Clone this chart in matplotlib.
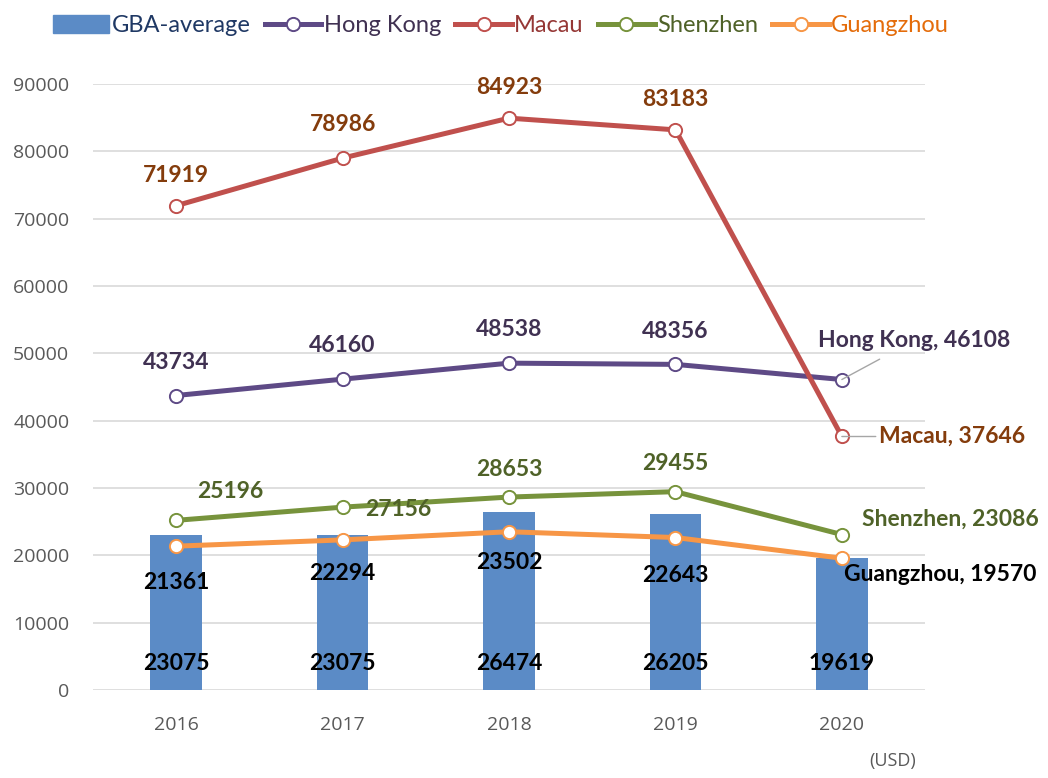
import matplotlib.pyplot as plt
from matplotlib.patches import Patch
from matplotlib.lines import Line2D

# Data
years = ['2016', '2017', '2018', '2019', '2020']
gba_avg = [23075, 23075, 26474, 26205, 19619]
hong_kong = [43734, 46160, 48538, 48356, 46108]
macau = [71919, 78986, 84923, 83183, 37646]
shenzhen = [25196, 27156, 28653, 29455, 23086]
guangzhou = [21361, 22294, 23502, 22643, 19570]

plt.rcParams['font.family'] = ['Lato', 'DejaVu Sans']

fig = plt.figure(figsize=(10.48, 7.78), dpi=100)
ax = fig.add_axes([0.0887, 0.1131, 0.794, 0.779])

x = list(range(len(years)))

bar_c = '#5B8BC6'
hk_c, hk_t = '#5E4A86', '#403152'
mc_c, mc_t = '#C0504D', '#843C0C'
sz_c, sz_t = '#77933C', '#4F6228'
gz_c, gz_t = '#F79646', '#000000'

ax.bar(x, gba_avg, width=0.31, color=bar_c, zorder=2)

series = [(hong_kong, hk_c), (macau, mc_c), (shenzhen, sz_c), (guangzhou, gz_c)]
for vals, c in series:
    ax.plot(x, vals, color=c, lw=3.6, marker='o', ms=9.5, mfc='white',
            mec=c, mew=1.4, zorder=3, solid_capstyle='round')

FS = 16.5
lab = dict(fontsize=FS, fontweight='bold', ha='center', va='center')

# bar labels
for i, v in enumerate(gba_avg):
    ax.text(i, 4000, str(v), color='black', **lab)

# line labels, offsets in points
def put(vals, color, offsets):
    for i, (v, off) in enumerate(zip(vals, offsets)):
        if off is None:
            continue
        ax.annotate(str(v), (i, v), xytext=off, textcoords='offset points',
                    color=color, **lab)

put(hong_kong, hk_t, [(0, 24), (0, 24), (0, 24), (0, 24), None])
put(macau, mc_t, [(0, 22), (0, 24), (0, 22), (0, 22), None])
put(shenzhen, sz_t, [(39, 21), (40, -2), (0, 20), (0, 20), None])
put(guangzhou, gz_t, [(0, -26), (0, -24), (0, -22), (0, -27), None])

# end labels with leader lines
ax.annotate(f'Hong Kong, {hong_kong[4]}', (4, hong_kong[4]), xytext=(52, 28),
            textcoords='offset points', color=hk_t, fontsize=FS, fontweight='bold',
            ha='center', va='center',
            arrowprops=dict(arrowstyle='-', color='#A6A6A6', lw=1,
                            shrinkA=8, shrinkB=0))
ax.annotate(f'Macau, {macau[4]}', (4, macau[4]), xytext=(79, 0),
            textcoords='offset points', color=mc_t, fontsize=FS, fontweight='bold',
            ha='center', va='center',
            arrowprops=dict(arrowstyle='-', color='#A6A6A6', lw=1,
                            shrinkA=58, shrinkB=0))
ax.annotate(f'Shenzhen, {shenzhen[4]}', (4, shenzhen[4]), xytext=(78, 11),
            textcoords='offset points', color=sz_t, fontsize=FS, fontweight='bold',
            ha='center', va='center')
ax.annotate(f'Guangzhou, {guangzhou[4]}', (4, guangzhou[4]), xytext=(71, -12),
            textcoords='offset points', color=gz_t, fontsize=FS, fontweight='bold',
            ha='center', va='center')

ax.set_xlim(-0.5, 4.5)
ax.set_ylim(0, 90000)
ax.set_yticks(range(0, 90001, 10000))
ax.set_xticks(x)
ax.set_xticklabels(years)
ax.tick_params(axis='both', length=0, labelsize=14, labelcolor='#595959',
               labelfontfamily='Open Sans')
ax.tick_params(axis='y', pad=17)
ax.tick_params(axis='x', pad=19)
ax.grid(axis='y', color='#D9D9D9', lw=1.2, zorder=0)
ax.set_axisbelow(True)
for s in ax.spines.values():
    s.set_visible(False)

handles = [Patch(color=bar_c)] + [
    Line2D([], [], color=c, lw=3.6, marker='o', ms=9.5, mfc='white', mec=c, mew=1.4)
    for _, c in series]
names = ['GBA-average', 'Hong Kong', 'Macau', 'Shenzhen', 'Guangzhou']
fig.legend(handles, names, loc='upper left', bbox_to_anchor=(0.03, 1.008),
           ncol=5, frameon=False, fontsize=17, handlelength=2.4,
           handleheight=0.8, handletextpad=0.1, columnspacing=0.6,
           labelcolor=['#1F3864', hk_t, '#953735', sz_t, '#E46C0A'])

fig.text(0.852, 0.01, '(USD)', color='#595959', fontsize=13, ha='center',
         va='bottom', family='Open Sans')

fig.savefig('out.png', dpi=100)
